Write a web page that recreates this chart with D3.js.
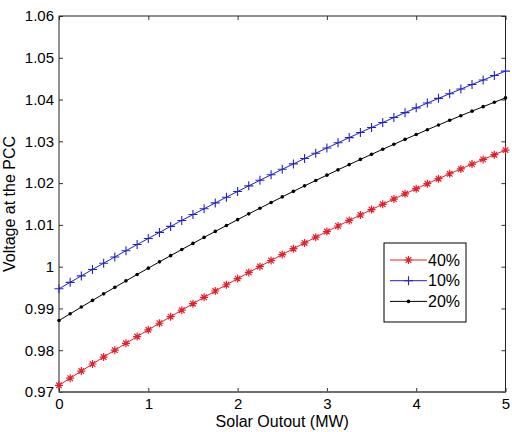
<!DOCTYPE html>
<html>
<head>
<meta charset="utf-8">
<script src="https://cdn.jsdelivr.net/npm/d3@7"></script>
<style>
  body { margin: 0; background: #fff; }
  svg { display: block; }
  text { font-family: Arial, "Liberation Sans", sans-serif; fill: #000; }
</style>
</head>
<body>
<div id="chart"></div>
<script>
// solar output (MW), 0 to 5 in steps of 0.125
const solar = d3.range(41).map(k => k / 8)

const v40 = [0.97160, 0.97331, 0.97501, 0.97670, 0.97836, 0.98002, 0.98165, 0.98327, 0.98488, 0.98646,
  0.98804, 0.98959, 0.99114, 0.99266, 0.99417, 0.99567, 0.99714, 0.99861, 1.00005, 1.00148,
  1.00290, 1.00430, 1.00568, 1.00705, 1.00840, 1.00974, 1.01106, 1.01237, 1.01366, 1.01493,
  1.01619, 1.01743, 1.01866, 1.01987, 1.02106, 1.02224, 1.02340, 1.02455, 1.02568, 1.02680, 1.02790]

const v10 = [0.99470, 0.99625, 0.99779, 0.99932, 1.00083, 1.00233, 1.00382, 1.00529, 1.00675, 1.00820,
  1.00964, 1.01106, 1.01247, 1.01387, 1.01526, 1.01663, 1.01799, 1.01934, 1.02067, 1.02199,
  1.02330, 1.02460, 1.02588, 1.02715, 1.02841, 1.02965, 1.03089, 1.03211, 1.03331, 1.03451,
  1.03569, 1.03686, 1.03801, 1.03916, 1.04029, 1.04140, 1.04251, 1.04360, 1.04468, 1.04575, 1.04680]

const v20 = [0.98710, 0.98872, 0.99033, 0.99192, 0.99349, 0.99505, 0.99660, 0.99813, 0.99965, 1.00115,
  1.00264, 1.00411, 1.00557, 1.00701, 1.00844, 1.00985, 1.01125, 1.01264, 1.01400, 1.01536,
  1.01670, 1.01803, 1.01934, 1.02063, 1.02191, 1.02318, 1.02443, 1.02567, 1.02689, 1.02810,
  1.02929, 1.03047, 1.03163, 1.03278, 1.03391, 1.03503, 1.03613, 1.03722, 1.03830, 1.03935, 1.04040]

const xTicks = [0, 1, 2, 3, 4, 5]
const yTicks = [0.97, 0.98, 0.99, 1, 1.01, 1.02, 1.03, 1.04, 1.05, 1.06]

const series = [
  { name: '40%', values: v40, color: '#e3202c', marker: 'star' },
  { name: '10%', values: v10, color: '#2222c8', marker: 'plus' },
  { name: '20%', values: v20, color: '#000000', marker: 'dot' }
]

const W = 512
const H = 432
const margin = { top: 16, right: 6.5, bottom: 40, left: 59 }
const width = W - margin.left - margin.right
const height = H - margin.top - margin.bottom

const svg = d3.select('#chart').append('svg')
  .attr('width', W)
  .attr('height', H)

const g = svg.append('g')
  .attr('transform', `translate(${margin.left},${margin.top})`)

const x = d3.scaleLinear().domain([0, 5]).range([0, width])
const y = d3.scaleLinear().domain([0.97, 1.06]).range([height, 0])

// ticks inside on all four sides, like matlab
g.append('g').attr('transform', `translate(0,${height})`)
  .call(d3.axisBottom(x).tickValues(xTicks).tickSizeInner(-4).tickSizeOuter(0).tickPadding(6).tickFormat(d3.format('d')))
g.append('g')
  .call(d3.axisTop(x).tickValues(xTicks).tickSizeInner(-4).tickSizeOuter(0).tickFormat(''))
g.append('g')
  .call(d3.axisLeft(y).tickValues(yTicks).tickSizeInner(-4).tickSizeOuter(0).tickPadding(5).tickFormat(d => d === 1 ? '1' : d3.format('.2f')(d)))
g.append('g').attr('transform', `translate(${width},0)`)
  .call(d3.axisRight(y).tickValues(yTicks).tickSizeInner(-4).tickSizeOuter(0).tickFormat(''))

g.selectAll('.domain').remove()
g.selectAll('.tick line').attr('stroke', '#333')
g.selectAll('.tick text').attr('font-size', 15).attr('fill', '#000')

g.append('rect')
  .attr('width', width)
  .attr('height', height)
  .attr('fill', 'none')
  .attr('stroke', '#222')
  .attr('stroke-width', 1)

// bottom edge looks a bit heavier and greyer in the original
g.append('line')
  .attr('x1', 0).attr('x2', width)
  .attr('y1', height).attr('y2', height)
  .attr('stroke', '#666')
  .attr('stroke-width', 1.6)

const line = d3.line()
  .x((d, i) => x(solar[i]))
  .y(d => y(d))

function drawMarker (sel, type, color) {
  if (type === 'star') {
    sel.append('path')
      .attr('d', 'M-4,0H4M0,-4V4M-2.8,-2.8L2.8,2.8M-2.8,2.8L2.8,-2.8')
      .attr('stroke', color).attr('stroke-width', 1.2).attr('fill', 'none')
  } else if (type === 'plus') {
    sel.append('path')
      .attr('d', 'M-4.5,0H4.5M0,-4.5V4.5')
      .attr('stroke', color).attr('stroke-width', 1.1).attr('fill', 'none')
  } else {
    sel.append('circle').attr('r', 1.8).attr('fill', color)
  }
}

series.forEach(s => {
  g.append('path')
    .datum(s.values)
    .attr('d', line)
    .attr('fill', 'none')
    .attr('stroke', s.color)
    .attr('stroke-width', 1)

  g.append('g').selectAll('g')
    .data(s.values)
    .enter().append('g')
    .attr('transform', (d, i) => `translate(${x(solar[i])},${y(d)})`)
    .each(function () { drawMarker(d3.select(this), s.marker, s.color) })
})

// legend
const lg = svg.append('g').attr('transform', 'translate(384,243)')
lg.append('rect')
  .attr('width', 82)
  .attr('height', 79)
  .attr('fill', '#fff')
  .attr('stroke', '#000')
  .attr('stroke-width', 1)

series.forEach((s, i) => {
  const row = lg.append('g').attr('transform', `translate(0,${17 + i * 20.7})`)
  row.append('line')
    .attr('x1', 6).attr('x2', 43)
    .attr('stroke', s.color).attr('stroke-width', 1)
  drawMarker(row.append('g').attr('transform', 'translate(24.5,0)'), s.marker, s.color)
  row.append('text')
    .attr('x', 44)
    .attr('dy', '0.36em')
    .attr('font-size', 16)
    .text(s.name)
})

svg.append('text')
  .attr('x', margin.left + width / 2)
  .attr('y', 427)
  .attr('text-anchor', 'middle')
  .attr('font-size', 16)
  .text('Solar Outout (MW)')

svg.append('text')
  .attr('transform', `translate(15,${margin.top + height / 2}) rotate(-90)`)
  .attr('text-anchor', 'middle')
  .attr('font-size', 16)
  .text('Voltage at the PCC')
</script>
</body>
</html>
